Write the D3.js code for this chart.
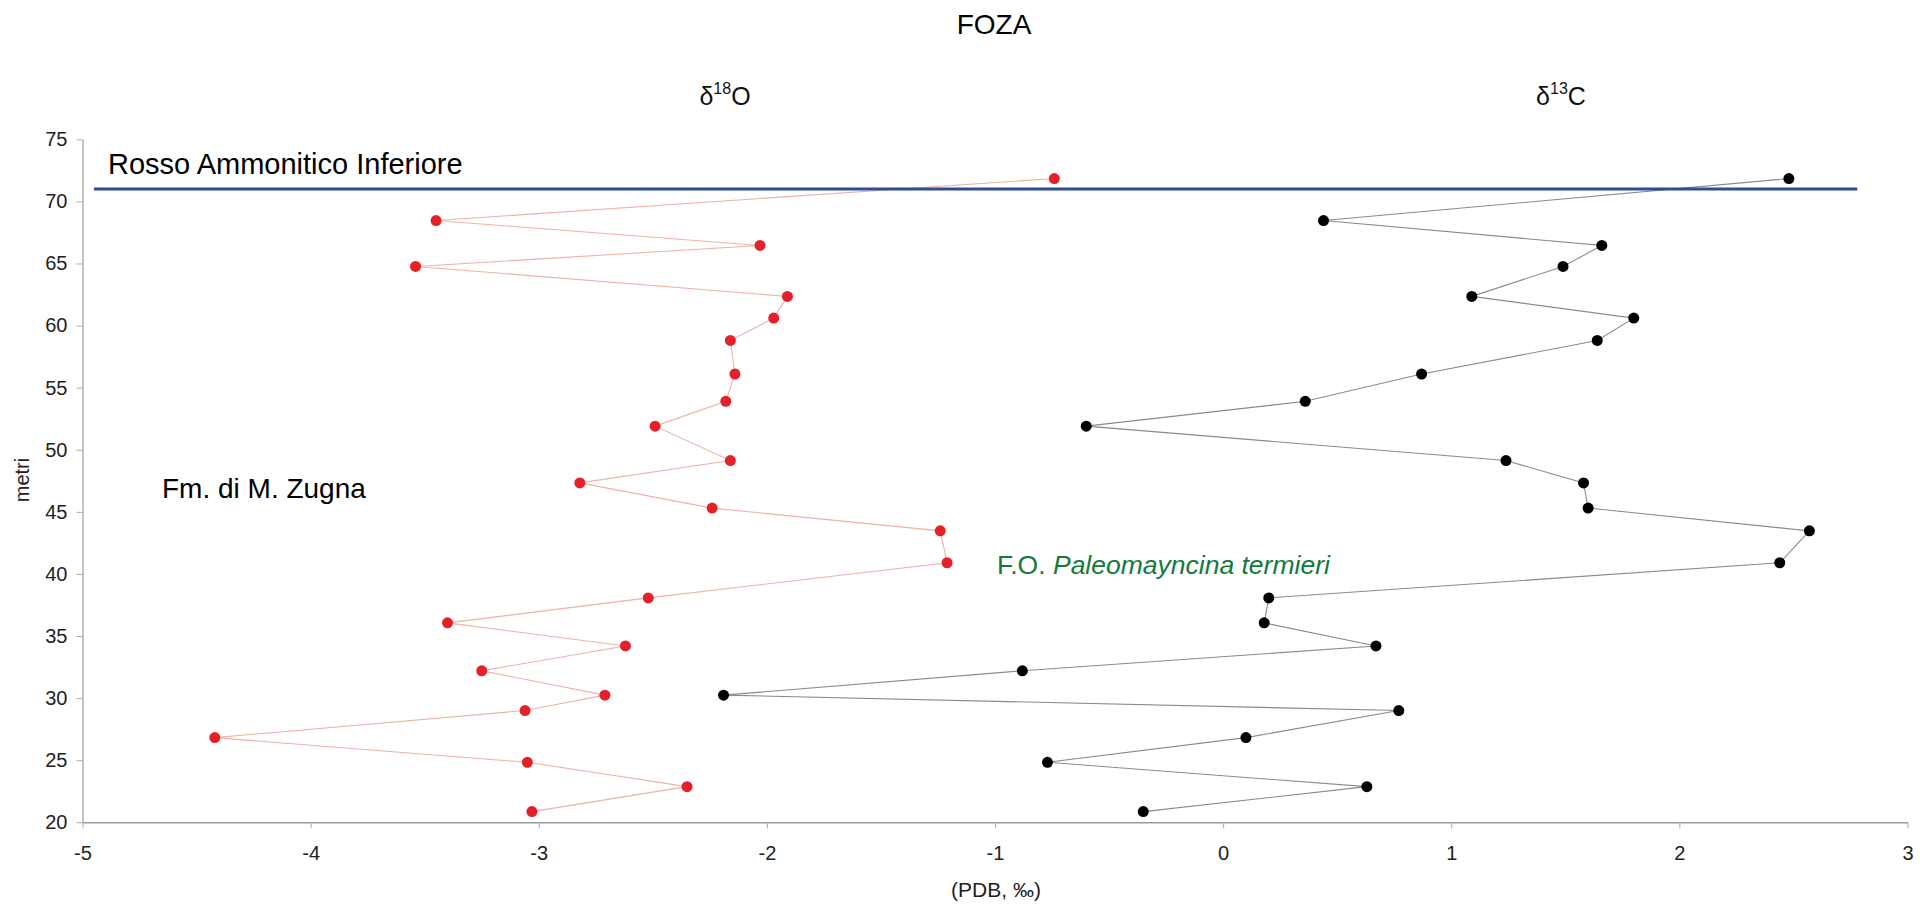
<!DOCTYPE html>
<html>
<head>
<meta charset="utf-8">
<script src="https://cdn.jsdelivr.net/npm/d3@7"></script>
<style>
  html, body { margin: 0; padding: 0; background: #fff; }
  svg { display: block; font-family: "Liberation Sans", Arial, Helvetica, sans-serif; }
</style>
</head>
<body>
<svg id="chart" width="1920" height="905"></svg>
<script>
// ---- data (depth in metres, isotope values in ‰ PDB) ----
const depths = [71.84, 68.46, 66.45, 64.76, 62.35, 60.6, 58.8, 56.1, 53.9, 51.9, 49.13, 47.33, 45.3,
                43.47, 40.9, 38.07, 36.06, 34.2, 32.2, 30.24, 29.0, 26.82, 24.83, 22.87, 20.86];
const d18O = [-0.74, -3.45, -2.03, -3.54, -1.91, -1.97, -2.16, -2.14, -2.18, -2.49, -2.16, -2.82, -2.24,
              -1.24, -1.21, -2.52, -3.40, -2.62, -3.25, -2.71, -3.06, -4.42, -3.05, -2.35, -3.03];
const d13C = [2.48, 0.44, 1.66, 1.49, 1.09, 1.80, 1.64, 0.87, 0.36, -0.60, 1.24, 1.58, 1.60,
              2.57, 2.44, 0.20, 0.18, 0.67, -0.88, -2.19, 0.77, 0.10, -0.77, 0.63, -0.35];
const xTicks = [-5, -4, -3, -2, -1, 0, 1, 2, 3];
const yTicks = [20, 25, 30, 35, 40, 45, 50, 55, 60, 65, 70, 75];
const boundaryDepth = 71;          // Rosso Ammonitico Inferiore boundary
const boundaryExtent = [-4.95, 2.78];

const svg = d3.select("#chart");
const x = d3.scaleLinear().domain([-5, 3]).range([82.5, 1907.5]);
const y = d3.scaleLinear().domain([20, 75]).range([822.3, 139.3]);
const fmt = d => String(d);

// axes
const yAxis = svg.append("g").attr("transform", `translate(${x(-5)},0)`)
  .call(d3.axisLeft(y).tickValues(yTicks).tickFormat(fmt).tickSize(6).tickPadding(9).tickSizeOuter(0));
yAxis.select(".domain").attr("stroke", "#c4c4c4").attr("stroke-width", 2);
yAxis.selectAll(".tick line").attr("stroke", "#aaa");
yAxis.selectAll(".tick text").attr("font-size", 20).attr("fill", "#222")
  .attr("font-family", "'Liberation Sans', Arial, sans-serif");

const xAxis = svg.append("g").attr("transform", `translate(0,${y(20)})`)
  .call(d3.axisBottom(x).tickValues(xTicks).tickFormat(fmt).tickSize(6).tickPadding(18).tickSizeOuter(0));
xAxis.select(".domain").attr("stroke", "#9a9a9a").attr("stroke-width", 1.5);
xAxis.selectAll(".tick line").attr("stroke", "#aaa");
xAxis.selectAll(".tick text").attr("font-size", 20).attr("fill", "#222")
  .attr("font-family", "'Liberation Sans', Arial, sans-serif");

// series lines
const pts18 = depths.map((d, i) => [d18O[i], d]);
const pts13 = depths.map((d, i) => [d13C[i], d]);
const line = d3.line().x(d => x(d[0])).y(d => y(d[1]));

svg.append("path").datum(pts18).attr("d", line)
  .attr("fill", "none").attr("stroke", "#eeb2a8").attr("stroke-width", 1.1);
svg.append("path").datum(pts13).attr("d", line)
  .attr("fill", "none").attr("stroke", "#8a8a8a").attr("stroke-width", 1.1);

// boundary line
svg.append("line")
  .attr("x1", x(boundaryExtent[0])).attr("x2", x(boundaryExtent[1]))
  .attr("y1", y(boundaryDepth)).attr("y2", y(boundaryDepth))
  .attr("stroke", "#2f4b9c").attr("stroke-width", 3);

// points
svg.append("g").selectAll("circle").data(pts18).join("circle")
  .attr("cx", d => x(d[0])).attr("cy", d => y(d[1])).attr("r", 5.5).attr("fill", "#e5202a");
svg.append("g").selectAll("circle").data(pts13).join("circle")
  .attr("cx", d => x(d[0])).attr("cy", d => y(d[1])).attr("r", 5.5).attr("fill", "#000");

// titles
svg.append("text").attr("x", 994).attr("y", 34).attr("text-anchor", "middle")
  .attr("font-size", 28).attr("fill", "#000").text("FOZA");

function isoLabel(cx, sup, el) {
  const t = svg.append("text").attr("x", cx).attr("y", 105).attr("text-anchor", "middle")
    .attr("font-size", 25).attr("fill", "#111");
  t.append("tspan").text("δ");
  t.append("tspan").attr("font-size", 16).attr("dy", -11).text(sup);
  t.append("tspan").attr("dy", 11).text(el);
}
isoLabel(725, "18", "O");
isoLabel(1561, "13", "C");

svg.append("text").attr("x", 108).attr("y", 174).attr("font-size", 29).attr("fill", "#000")
  .text("Rosso Ammonitico Inferiore");
svg.append("text").attr("x", 162).attr("y", 498).attr("font-size", 28).attr("fill", "#000")
  .text("Fm. di M. Zugna");

const fo = svg.append("text").attr("x", 997).attr("y", 574).attr("font-size", 26.5).attr("fill", "#147a3c");
fo.append("tspan").text("F.O. ");
fo.append("tspan").attr("font-style", "italic").text("Paleomayncina termieri");

svg.append("text").attr("x", 996).attr("y", 897).attr("text-anchor", "middle")
  .attr("font-size", 21).attr("fill", "#222").text("(PDB, ‰)");
svg.append("text").attr("transform", "translate(29,480) rotate(-90)").attr("text-anchor", "middle")
  .attr("font-size", 20).attr("fill", "#222").text("metri");
</script>
</body>
</html>
